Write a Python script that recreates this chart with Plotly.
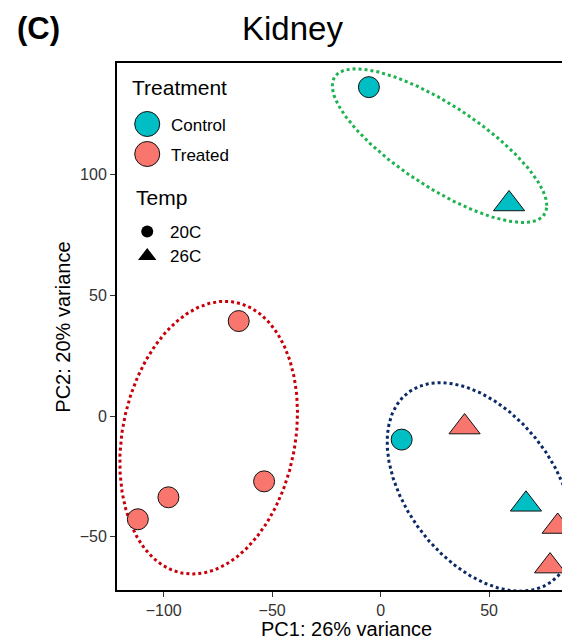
import numpy as np
import plotly.graph_objects as go

# ---------------- data ----------------
ctrl20_x = [-5.4, 9.7]
ctrl20_y = [136.3, -9.7]
ctrl26_x = [59.2, 67.0]
ctrl26_y = [87.9, -36.5]
trt20_x = [-65.4, -53.7, -97.8, -111.9]
trt20_y = [39.4, -27.0, -33.6, -42.7]
trt26_x = [38.7, 81.6, 78.1]
trt26_y = [-4.5, -45.7, -62.1]

# ellipse parameters per cluster: centre, half-extent in x/y, phase (deg)
ell_names = ["green", "red", "navy"]
ell_cx = [27.15, -79.25, 45.85]
ell_cy = [112.05, -8.9, -29.3]
ell_ax = [49.45, 40.95, 42.85]
ell_by = [31.85, 56.5, 43.2]
ell_phi = [141.3, 79.5, 115.5]
ell_col = ["#1DB34F", "#C8000A", "#0B2A66"]

x_ticks = [-100, -50, 0, 50]
y_ticks = [-50, 0, 50, 100]

CTRL = "#00BFC4"
TRT = "#F8766D"
FONT = "Liberation Sans, Arial, sans-serif"

# ---------------- layout geometry ----------------
W, H = 562, 640
L, T, B = 117.3, 63, 50
PW, PH = W - L, H - T - B


def paper(px, py):
    return (px - L) / PW, (H - B - py) / PH


fig = go.Figure()

# ellipses
t = np.linspace(0, 2 * np.pi, 400)
for cx, cy, a, b, ph, col in zip(ell_cx, ell_cy, ell_ax, ell_by, ell_phi, ell_col):
    ex = cx + a * np.cos(t)
    ey = cy + b * np.cos(t - np.deg2rad(ph))
    fig.add_trace(go.Scatter(x=ex, y=ey, mode="lines",
                             line=dict(color=col, width=3, dash="dot"),
                             hoverinfo="skip", showlegend=False))

circ = dict(symbol="circle", size=21, line=dict(color="#111111", width=1))
tri = dict(symbol="triangle-up", size=27, line=dict(color="#111111", width=1))

fig.add_trace(go.Scatter(x=trt20_x, y=trt20_y, mode="markers",
                         marker=dict(color=TRT, **circ), showlegend=False))
fig.add_trace(go.Scatter(x=ctrl20_x, y=ctrl20_y, mode="markers",
                         marker=dict(color=CTRL, **circ), showlegend=False))
fig.add_trace(go.Scatter(x=trt26_x, y=trt26_y, mode="markers",
                         marker=dict(color=TRT, **tri), showlegend=False))
fig.add_trace(go.Scatter(x=ctrl26_x, y=ctrl26_y, mode="markers",
                         marker=dict(color=CTRL, **tri), showlegend=False))

# ---------------- manual legend (pixel overlay axis) ----------------
leg_keys = [
    (147.5 - L, 124 - T, CTRL, "circle", 25, 1),
    (147.5 - L, 154 - T, TRT, "circle", 25, 1),
    (147.5 - L, 231.5 - T, "black", "circle", 12, 0),
    (147.5 - L, 256 - T, "black", "triangle-up", 16, 0),
]
for kx, ky, kc, ks, kz, lw in leg_keys:
    fig.add_trace(go.Scatter(x=[kx], y=[ky], mode="markers", xaxis="x2", yaxis="y2",
                             marker=dict(color=kc, symbol=ks, size=kz,
                                         line=dict(color="#111111", width=lw)),
                             hoverinfo="skip", showlegend=False))

ann = []


def add_text(px, py, text, size, xanchor="left", bold=False, color="black", angle=0):
    x, y = paper(px, py)
    ann.append(dict(x=x, y=y, xref="paper", yref="paper", text=f"<b>{text}</b>" if bold else text,
                    showarrow=False, xanchor=xanchor, yanchor="middle", textangle=angle,
                    borderpad=0,
                    font=dict(family=FONT, size=size, color=color)))


add_text(131, 87, "Treatment", 21)
add_text(170, 125, "Control", 17)
add_text(170, 155, "Treated", 17)
add_text(135, 197, "Temp", 21)
add_text(169, 232, "20C", 17)
add_text(169, 256, "26C", 17)

add_text(293, 28, "Kidney", 33, xanchor="center")
add_text(39, 28, "(C)", 31, xanchor="center", bold=True)
add_text(347, 629, "PC1: 26% variance", 20, xanchor="center")
add_text(63, 327, "PC2: 20% variance", 20, xanchor="center", angle=-90)

fig.update_layout(
    width=W, height=H,
    margin=dict(l=L, r=0, t=T, b=B, pad=0),
    paper_bgcolor="white", plot_bgcolor="white",
    font=dict(family=FONT),
    annotations=ann,
    xaxis=dict(range=[-121.5, 83.6], tickvals=x_ticks, showgrid=False, zeroline=False,
               showline=True, linecolor="black", linewidth=2, mirror=True,
               ticks="outside", ticklen=5, tickcolor="#333333", tickwidth=1,
               tickfont=dict(family=FONT, size=16, color="#333333")),
    yaxis=dict(range=[-72.0, 146.3], tickvals=y_ticks, showgrid=False, zeroline=False,
               showline=True, linecolor="black", linewidth=2, mirror=False,
               ticks="outside", ticklen=5, tickcolor="#333333", tickwidth=1,
               tickfont=dict(family=FONT, size=16, color="#333333")),
    xaxis2=dict(range=[0, PW], overlaying="x", visible=False, fixedrange=True),
    yaxis2=dict(range=[PH, 0], overlaying="y", visible=False, fixedrange=True),
    showlegend=False,
)

fig.write_html("out.html")
